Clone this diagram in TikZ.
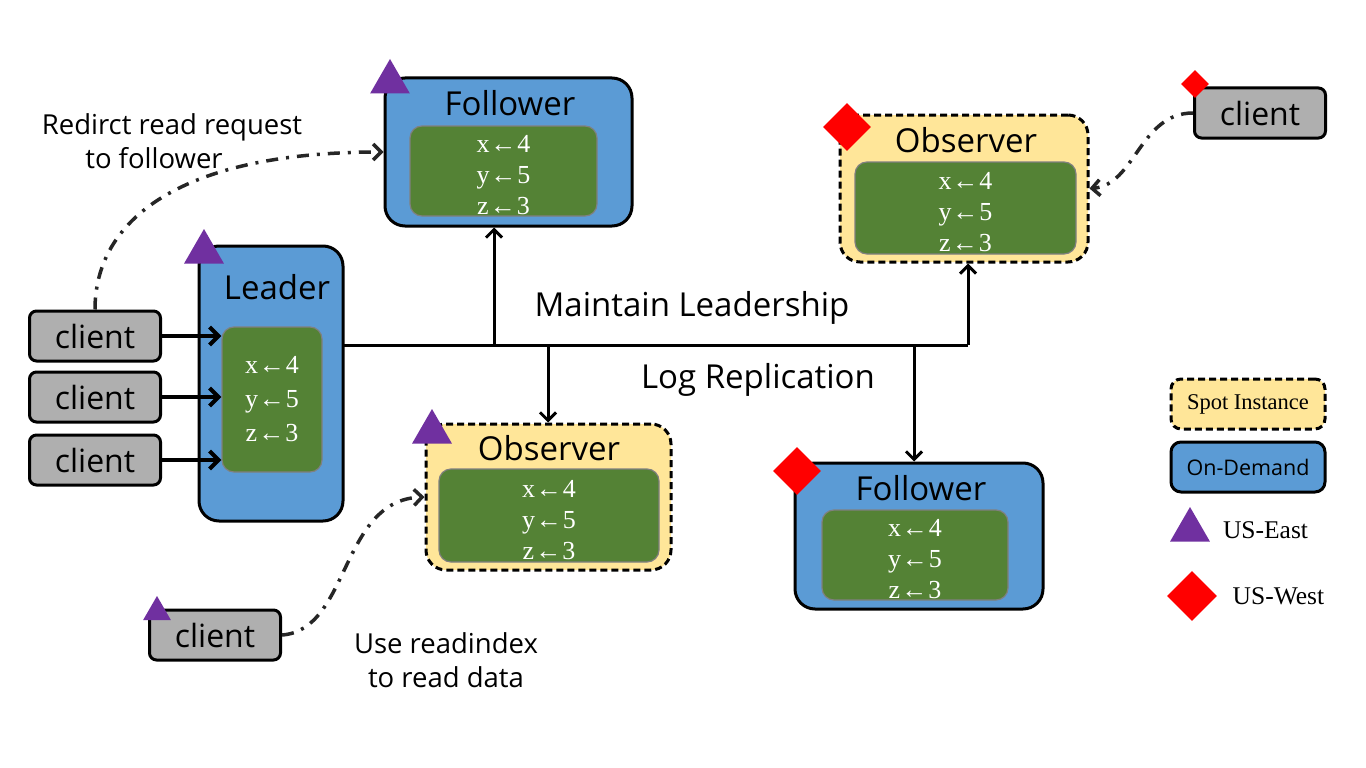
\documentclass[tikz,border=0pt]{standalone}
\usepackage{fontspec}
\setmainfont{Liberation Serif}
\setsansfont{Open Sans}
\usetikzlibrary{positioning,arrows.meta,shapes.geometric}

\definecolor{ondemand}{HTML}{5B9BD5}
\definecolor{spotfill}{HTML}{FFE699}
\definecolor{datagreen}{HTML}{548235}
\definecolor{clientgray}{HTML}{AFAFAF}
\definecolor{east}{HTML}{7030A0}
\definecolor{west}{HTML}{FF0000}
\definecolor{hint}{HTML}{262626}

\newcommand{\kvlist}[1][0pt]{\rule{0pt}{#1}x\kern1pt←\kern1pt4\\y\kern1pt←\kern1pt5\\z\kern1pt←\kern1pt3}

\begin{document}
\begin{tikzpicture}[
    x=1pt, y=-1pt,
    server/.style={rectangle, draw, line width=3pt, rounded corners=20pt, fill=ondemand, inner sep=0pt},
    spot/.style={server, fill=spotfill, dash pattern=on 7pt off 4pt},
    data/.style={rectangle, draw=gray, line width=1.2pt, rounded corners=12pt, fill=datagreen, text=white, inner sep=0pt, align=center, font=\fontsize{26}{31}\selectfont},
    title/.style={font=\sffamily\fontsize{33}{38}\selectfont},
    client/.style={rectangle, draw, line width=3pt, rounded corners=7pt, fill=clientgray, minimum width=131pt, minimum height=50pt, font=\sffamily\fontsize{32}{36}\selectfont},
    label/.style={font=\sffamily\fontsize{27.5}{34}\selectfont, align=center},
    eastmark/.style={regular polygon, regular polygon sides=3, fill=east, inner sep=0pt, minimum size=#1},
    westmark/.style={diamond, fill=west, inner sep=0pt, minimum size=#1},
    arrow/.style={-{Straight Barb[length=8pt, width=16pt]}, line width=3pt},
    feed/.style={-{Straight Barb[length=9pt, width=18pt]}, line width=4pt},
    hop/.style={-{Straight Barb[length=8pt, width=16pt]}, line width=3.5pt, color=hint, dash pattern=on 12pt off 8pt on 3pt off 8pt}
]
\useasboundingbox[fill=white] (0,0) rectangle (1366,768);

% servers
\node[server, minimum width=247pt, minimum height=148pt] (folT) at (508.5,152) {};
\node[title] at (510,103) {Follower};
\node[data, minimum width=187pt, minimum height=90pt] (folTdata) at (503.5,171) {\kvlist[26pt]};
\node[eastmark=46pt] (folTmark) at (390,82) {};

\node[server, minimum width=144pt, minimum height=275pt] (leader) at (271,383.5) {};
\node[title] at (277,287) {Leader};
\node[data, minimum width=100pt, minimum height=145pt, font=\fontsize{26}{34}\selectfont] (leaderdata) at (272,399.5) {\kvlist};
\node[eastmark=46pt] (leadermark) at (204,252) {};

\node[spot, minimum width=245pt, minimum height=146pt] (obsM) at (548.5,497) {};
\node[title] at (549,448) {Observer};
\node[data, minimum width=220pt, minimum height=93pt] (obsMdata) at (549,515.5) {\kvlist[26pt]};
\node[eastmark=46pt] (obsMmark) at (432,432) {};

\node[spot, minimum width=248pt, minimum height=147pt] (obsR) at (964,188.5) {};
\node[title] at (966,140) {Observer};
\node[data, minimum width=221pt, minimum height=92pt] (obsRdata) at (965.5,208) {\kvlist[26pt]};
\node[westmark=48pt] (obsRmark) at (847,127) {};

\node[server, minimum width=248pt, minimum height=146pt] (folB) at (919,536) {};
\node[title] at (921,488) {Follower};
\node[data, minimum width=186pt, minimum height=90pt] (folBdata) at (915,555) {\kvlist[26pt]};
\node[westmark=48pt] (folBmark) at (797,471) {};

% clients
\node[client] (cl1) at (95,336) {client};
\node[client] (cl2) at (95,397) {client};
\node[client] (cl3) at (95,460) {client};
\node[client] (clR) at (1260,113) {client};
\node[westmark=28pt] (clRmark) at (1195,84) {};
\node[client] (clB) at (215,635) {client};
\node[eastmark=32pt] (clBmark) at (157,612) {};

% labels
\node[label] (redirect) at (172,141) {Redirct read request\\to follower\hspace*{36pt}};
\node[label] (readindex) at (446,660) {Use readindex\\to read data};
\node[title] (maintain) at (692,308) {Maintain Leadership};
\node[title] (logrep) at (758,380) {Log Replication};

% legend
\node[spot, rounded corners=10pt, minimum width=154pt, minimum height=50pt, font=\fontsize{22.5}{26}\selectfont] (legspot) at (1248,404) {Spot Instance};
\node[server, rounded corners=10pt, minimum width=154pt, minimum height=50pt, font=\sffamily\fontsize{21.5}{26}\selectfont] (legdemand) at (1248,467) {On-Demand};
\node[eastmark=46pt] (legeast) at (1190,530) {};
\node[font=\fontsize{25.5}{30}\selectfont, right=16pt of legeast] {US-East};
\node[westmark=50pt] (legwest) at (1192,596) {};
\node[font=\fontsize{25.5}{30}\selectfont, right=12pt of legwest] {US-West};

% replication bus
\coordinate (busL) at (343,345);
\coordinate (busR) at (968,345);
\coordinate (tapA) at (494,345);
\coordinate (tapB) at (548,345);
\coordinate (tapC) at (914,345);
\draw[line width=3pt] (busL) -- (busR);
\draw[arrow] (busR) -- (busR |- obsR.south);
\draw[arrow] (tapA) -- (tapA |- folT.south);
\draw[arrow] (tapB) -- (tapB |- obsM.north);
\draw[arrow] (tapC) -- (tapC |- folB.north);

% client requests
\draw[feed] (cl1.east) -- (cl1.east -| leaderdata.west);
\draw[feed] (cl2.east) -- (cl2.east -| leaderdata.west);
\draw[feed] (cl3.east) -- (cl3.east -| leaderdata.west);

% reads
\draw[hop] (cl1.north) .. controls (95,220) and (180,152) .. (folT.west);
\draw[hop] (clR.west) .. controls (1140,113) and (1135,185) .. (obsR.east);
\draw[hop] (clB.east) .. controls (350,630) and (340,500) .. (obsM.west);
\end{tikzpicture}
\end{document}
